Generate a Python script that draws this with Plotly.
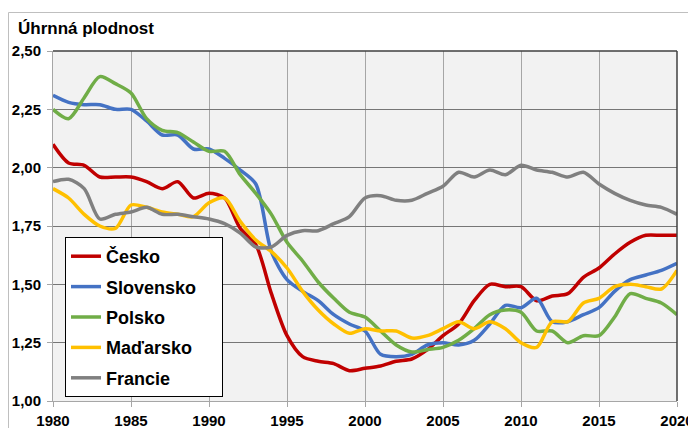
import plotly.graph_objects as go

# roky 1980-2020
roky = list(range(1980, 2021))

# úhrnná plodnost podle zemí
cesko = [2.10, 2.02, 2.01, 1.96, 1.96, 1.96, 1.94, 1.91, 1.94, 1.87,
         1.89, 1.87, 1.74, 1.67, 1.46, 1.28, 1.19, 1.17, 1.16, 1.13,
         1.14, 1.15, 1.17, 1.18, 1.22, 1.28, 1.33, 1.43, 1.50, 1.49,
         1.49, 1.43, 1.45, 1.46, 1.53, 1.57, 1.63, 1.68, 1.71, 1.71,
         1.71]
slovensko = [2.31, 2.28, 2.27, 2.27, 2.25, 2.25, 2.20, 2.14, 2.14, 2.08,
             2.08, 2.04, 1.99, 1.93, 1.64, 1.52, 1.47, 1.43, 1.37, 1.33,
             1.30, 1.20, 1.19, 1.20, 1.24, 1.25, 1.24, 1.26, 1.33, 1.41,
             1.40, 1.44, 1.34, 1.34, 1.37, 1.40, 1.47, 1.52, 1.54, 1.56,
             1.59]
polsko = [2.25, 2.21, 2.30, 2.39, 2.36, 2.32, 2.21, 2.16, 2.15, 2.11,
          2.07, 2.07, 1.97, 1.89, 1.80, 1.68, 1.60, 1.51, 1.44, 1.38,
          1.36, 1.30, 1.24, 1.21, 1.22, 1.23, 1.26, 1.31, 1.37, 1.39,
          1.38, 1.30, 1.30, 1.25, 1.28, 1.28, 1.36, 1.46, 1.44, 1.42,
          1.37]
madarsko = [1.91, 1.87, 1.80, 1.75, 1.74, 1.84, 1.83, 1.81, 1.80, 1.79,
            1.85, 1.87, 1.77, 1.69, 1.64, 1.57, 1.47, 1.39, 1.33, 1.29,
            1.31, 1.30, 1.30, 1.27, 1.28, 1.31, 1.34, 1.31, 1.34, 1.31,
            1.25, 1.23, 1.34, 1.34, 1.42, 1.44, 1.49, 1.50, 1.49, 1.48,
            1.56]
francie = [1.94, 1.95, 1.91, 1.78, 1.80, 1.81, 1.83, 1.80, 1.80, 1.79,
           1.78, 1.76, 1.72, 1.66, 1.66, 1.71, 1.73, 1.73, 1.76, 1.79,
           1.87, 1.88, 1.86, 1.86, 1.89, 1.92, 1.98, 1.96, 1.99, 1.97,
           2.01, 1.99, 1.98, 1.96, 1.98, 1.93, 1.89, 1.86, 1.84, 1.83,
           1.80]

serie = [
    ('Česko', cesko, '#c00000'),
    ('Slovensko', slovensko, '#4472c4'),
    ('Polsko', polsko, '#70ad47'),
    ('Maďarsko', madarsko, '#ffc000'),
    ('Francie', francie, '#808080'),
]

pismo = 'Liberation Sans, Arial, sans-serif'

# stránka má okraj 8 px, graf je proto o 8 px menší a vše posunuté
W, H = 688, 420
plocha_l, plocha_r, plocha_t, plocha_b = 45, 669, 43, 393

fig = go.Figure()
for nazev, hodnoty, barva in serie:
    # každá řada ve vlastní skupině, aby šla zvětšit mezera v legendě
    fig.add_trace(go.Scatter(x=roky, y=hodnoty, name=f'<b>{nazev}</b>\u00a0\u00a0\u00a0\u00a0',
                             mode='lines', legendgroup=nazev,
                             line=dict(color=barva, width=3.5, shape='spline', smoothing=0.8)))

sirka = plocha_r - plocha_l
vyska = plocha_b - plocha_t

fig.update_layout(
    width=W, height=H,
    margin=dict(l=plocha_l, r=W - plocha_r, t=plocha_t, b=H - plocha_b),
    paper_bgcolor='white', plot_bgcolor='#f2f2f2',
    separators=', ',
    font=dict(family=pismo, color='black'),
    title=dict(text='<b>Úhrnná plodnost</b>', x=10 / W, xanchor='left',
               y=1 - 20 / H, yanchor='middle', font=dict(size=17, color='black')),
    legend=dict(x=12 / sirka, y=(vyska + 8 - 237 + 43) / vyska, xanchor='left', yanchor='top',
                bgcolor='white', bordercolor='black', borderwidth=1,
                font=dict(size=18, family=pismo, color='black'),
                traceorder='grouped', tracegroupgap=4),
    showlegend=True,
)

fig.update_xaxes(range=[1980, 2020], dtick=5, tick0=1980,
                 showgrid=True, gridcolor='#a6a6a6', gridwidth=1,
                 showline=True, linecolor='#a6a6a6', linewidth=1,
                 ticks='outside', ticklen=5, tickcolor='#a6a6a6',
                 ticklabelstandoff=1, automargin=False,
                 tickfont=dict(size=15, family=pismo, color='black', weight='bold'),
                 zeroline=False)
fig.update_yaxes(range=[1, 2.5], dtick=0.25, tick0=1, tickformat='.2f',
                 showgrid=True, gridcolor='#767676', gridwidth=1,
                 showline=True, linecolor='#a6a6a6', linewidth=1,
                 ticks='outside', ticklen=5, tickcolor='#a6a6a6',
                 ticklabelstandoff=3, automargin=False,
                 tickfont=dict(size=15, family=pismo, color='black', weight='bold'),
                 zeroline=False)

# horní a pravý okraj plochy grafu
fig.add_shape(type='line', xref='paper', yref='paper', x0=0, x1=1, y0=1, y1=1,
              line=dict(color='#404040', width=1.5))
fig.add_shape(type='line', xref='paper', yref='paper', x0=1, x1=1, y0=0, y1=1,
              line=dict(color='#404040', width=1.5))
# rámeček celého grafu
fig.add_shape(type='rect', xref='paper', yref='paper',
              x0=(0.5 - plocha_l) / sirka, x1=(W + 5 - plocha_l) / sirka,
              y0=(plocha_b - H - 10) / vyska, y1=(plocha_b - 4.5) / vyska,
              line=dict(color='#bfbfbf', width=1), layer='below')

fig.write_html('out.html')
